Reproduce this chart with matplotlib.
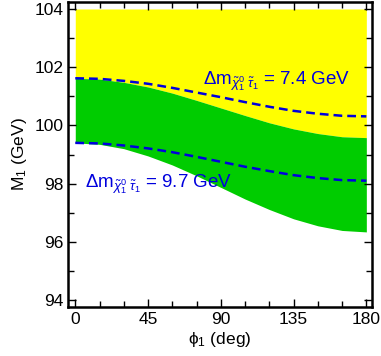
import numpy as np
import matplotlib
matplotlib.use("Agg")
import matplotlib.pyplot as plt
from matplotlib.ticker import MultipleLocator

plt.rcParams['font.family'] = ['Liberation Sans', 'DejaVu Sans']
plt.rcParams['mathtext.fontset'] = 'custom'
plt.rcParams['mathtext.rm'] = 'Liberation Sans'
plt.rcParams['mathtext.it'] = 'Liberation Sans:italic'
plt.rcParams['mathtext.sf'] = 'Liberation Sans'

# ----------------------------
# Data
# ----------------------------
phi = [0, 15, 30, 45, 60, 75, 90, 105, 120, 135, 150, 165, 180]
green_top = [101.62, 101.59, 101.48, 101.32, 101.11, 100.86, 100.60,
             100.34, 100.09, 99.88, 99.72, 99.61, 99.58]
green_bot = [99.40, 99.35, 99.20, 98.95, 98.64, 98.27, 97.87,
             97.47, 97.11, 96.79, 96.55, 96.39, 96.34]
dash_74 = [101.62, 101.60, 101.53, 101.43, 101.29, 101.13, 100.97,
           100.80, 100.64, 100.50, 100.40, 100.33, 100.31]
dash_97 = [99.40, 99.38, 99.31, 99.21, 99.08, 98.92, 98.75,
           98.58, 98.43, 98.29, 98.19, 98.12, 98.10]
m_top = 104.0

fig = plt.figure(figsize=(3.81, 3.56), dpi=100)
ax = fig.add_axes([68/381, 1 - 307/356, (372-68)/381, (307-2)/356])

ax.fill_between(phi, green_top, m_top, color='#ffff00', lw=0)
ax.fill_between(phi, green_bot, green_top, color='#00cc00', lw=0)
ax.plot(phi, dash_74, color='#0000dd', ls=(0, (3.5, 2)), lw=1.8)
ax.plot(phi, dash_97, color='#0000dd', ls=(0, (3.5, 2)), lw=1.8)

lab = r'$\Delta\mathrm{m}_{\tilde{\chi}^0_1\;\tilde{\tau}_1}$'
ax.text(79, 101.42, lab + ' = 7.4 GeV', color='#0000dd', fontsize=13.5)
ax.text(6, 97.85, lab + ' = 9.7 GeV', color='#0000dd', fontsize=13.5)

ax.set_xlim(-4.5, 183.5)
ax.set_ylim(93.76, 104.24)
ax.set_xticks([0, 45, 90, 135, 180])
ax.set_yticks([94, 96, 98, 100, 102, 104])
ax.xaxis.set_minor_locator(MultipleLocator(15))
ax.yaxis.set_minor_locator(MultipleLocator(1))
ax.tick_params(which='both', direction='in', top=True, right=True,
               labelsize=12.5, width=1)
ax.tick_params(which='major', length=6)
ax.tick_params(which='minor', length=4)
for s in ax.spines.values():
    s.set_linewidth(1.8)

ax.set_xlabel('ϕ$_1$ (deg)', fontsize=12.5, labelpad=2)
ax.set_ylabel(r'M$_1$ (GeV)', fontsize=12.5, labelpad=4)

plt.savefig("out.png", dpi=100)
